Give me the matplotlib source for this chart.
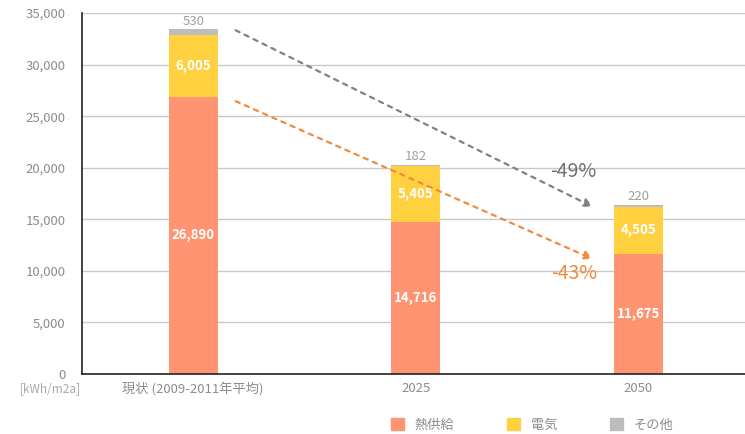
import matplotlib
matplotlib.use("Agg")
import matplotlib.pyplot as plt
from matplotlib.patches import Patch

plt.rcParams['font.family'] = ['Noto Sans CJK JP', 'DejaVu Sans']

categories = ['現状 (2009-2011年平均)', '2025', '2050']
heat = [26890, 14716, 11675]
electricity = [6005, 5405, 4505]
other = [530, 182, 220]
series_names = ['熱供給', '電気', 'その他']
reductions = ['-49%', '-43%']

c_heat = '#FF9473'
c_elec = '#FFD040'
c_other = '#BDBDBD'
c_text = '#8C8C8C'

fig = plt.figure(figsize=(7.45, 4.34), dpi=100)
ax = fig.add_axes([82 / 745, 60 / 434, 663 / 745, 361 / 434])

x = list(range(len(categories)))
w = 0.22
ax.bar(x, heat, w, color=c_heat, zorder=3)
ax.bar(x, electricity, w, bottom=heat, color=c_elec, zorder=3)
tot2 = [h + e for h, e in zip(heat, electricity)]
ax.bar(x, other, w, bottom=tot2, color=c_other, zorder=3)

for i in x:
    ax.text(i, heat[i] / 2, f'{heat[i]:,}', ha='center', va='center',
            color='white', fontsize=9.5, fontweight='bold', zorder=4)
    ax.text(i, heat[i] + electricity[i] / 2, f'{electricity[i]:,}', ha='center',
            va='center', color='white', fontsize=9.5, fontweight='bold', zorder=4)
    ax.text(i, tot2[i] + other[i] + 150, f'{other[i]:,}', ha='center',
            va='bottom', color='#A0A0A0', fontsize=9.5, zorder=4)

ax.set_xlim(-0.5, 2.48)
ax.set_ylim(0, 35000)
ax.set_yticks(range(0, 35001, 5000))
ax.set_yticklabels([f'{v:,}' for v in range(0, 35001, 5000)])
ax.set_xticks(x)
ax.set_xticklabels(categories)
ax.tick_params(axis='both', length=0, colors=c_text, labelsize=9.5)
ax.tick_params(axis='y', pad=12)
ax.tick_params(axis='x', pad=6)
ax.yaxis.grid(True, color='#C8C8C8', linewidth=1, zorder=0)
for s in ['top', 'right']:
    ax.spines[s].set_visible(False)
for s in ['left', 'bottom']:
    ax.spines[s].set_color('#222222')
    ax.spines[s].set_linewidth(1.2)
    ax.spines[s].set_zorder(5)

# reduction arrows
ax.annotate('', xy=(1.806, 16100), xytext=(0.179, 33450),
            arrowprops=dict(arrowstyle='-|>', color='#808080', lw=1.6,
                            linestyle=(0, (2, 2.5)), mutation_scale=12), zorder=4)
ax.annotate('', xy=(1.806, 11050), xytext=(0.179, 26560),
            arrowprops=dict(arrowstyle='-|>', color='#F08A3C', lw=1.6,
                            linestyle=(0, (2, 2.5)), mutation_scale=12), zorder=4)
ax.text(1.71, 19600, reductions[0], ha='center', va='center', color='#707070', fontsize=14)
ax.text(1.71, 9700, reductions[1], ha='center', va='center', color='#F08A3C', fontsize=14)

fig.text(20 / 745, 1 - 389 / 434, '[kWh/m2a]', ha='left', va='center', color='#A8A8A8', fontsize=8.5)

handles = [Patch(color=c) for c in (c_heat, c_elec, c_other)]
fig.legend(handles, series_names, loc='center', bbox_to_anchor=(532 / 745, 1 - 425 / 434),
           ncol=3, frameon=False, fontsize=9.5, labelcolor=c_text, handlelength=1,
           handleheight=1, columnspacing=4.0, handletextpad=0.8)

fig.savefig('out.png', dpi=100)
